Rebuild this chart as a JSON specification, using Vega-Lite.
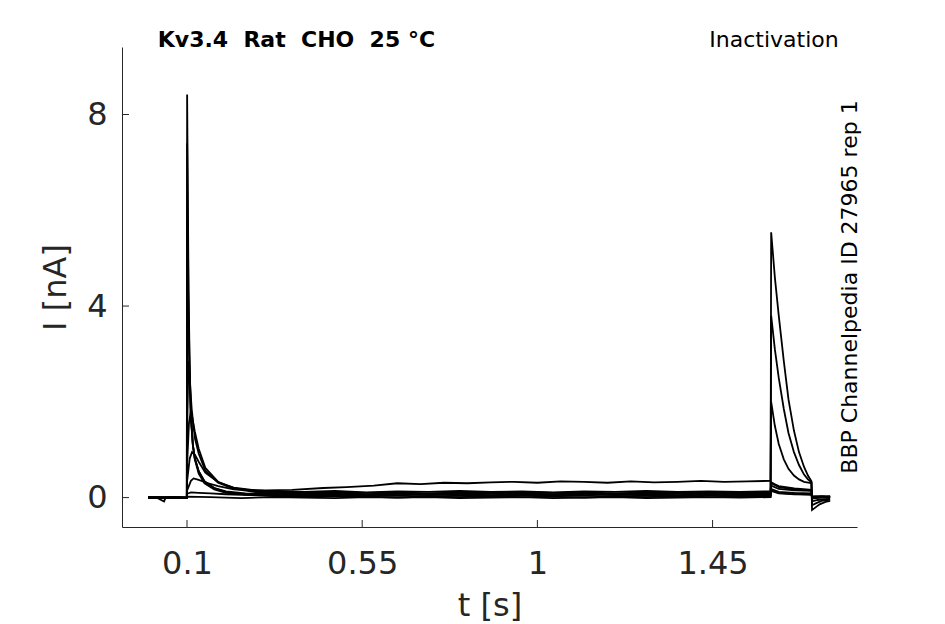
{
  "$schema": "https://vega.github.io/schema/vega-lite/v6.json",
  "width": 735,
  "height": 480,
  "autosize": {"type": "none"},
  "padding": {"left": 122, "top": 47, "right": 88, "bottom": 97},
  "background": "white",
  "config": {
    "view": {"stroke": null},
    "font": "DejaVu Sans",
    "axis": {
      "grid": false,
      "ticks": false,
      "domainColor": "#262626",
      "labelColor": "#262626",
      "titleColor": "#262626",
      "labelFont": "DejaVu Sans",
      "titleFont": "DejaVu Sans",
      "labelFontSize": 32,
      "titleFontSize": 32,
      "titleFontWeight": "normal",
      "domainWidth": 1
    }
  },
  "layer": [
    {
      "data": {
        "values": [
          {"k": "a", "t": 0, "i": 0.01}, {"k": "a", "t": 0.03, "i": -0.01}, {"k": "a", "t": 0.06, "i": 0.01}, {"k": "a", "t": 0.0995, "i": 0},
          {"k": "a", "t": 0.1003, "i": 8.42}, {"k": "a", "t": 0.102, "i": 6.4}, {"k": "a", "t": 0.104, "i": 4.3}, {"k": "a", "t": 0.107, "i": 2.7},
          {"k": "a", "t": 0.11, "i": 1.75}, {"k": "a", "t": 0.115, "i": 1.1}, {"k": "a", "t": 0.12, "i": 0.8}, {"k": "a", "t": 0.13, "i": 0.5},
          {"k": "a", "t": 0.145, "i": 0.3}, {"k": "a", "t": 0.17, "i": 0.17}, {"k": "a", "t": 0.2, "i": 0.1}, {"k": "a", "t": 0.25, "i": 0.07},
          {"k": "a", "t": 0.32, "i": 0.05}, {"k": "a", "t": 0.4, "i": 0.03}, {"k": "a", "t": 0.48, "i": 0.05}, {"k": "a", "t": 0.56, "i": 0.03},
          {"k": "a", "t": 0.64, "i": 0.04}, {"k": "a", "t": 0.72, "i": 0.02}, {"k": "a", "t": 0.8, "i": 0.04}, {"k": "a", "t": 0.88, "i": 0.03},
          {"k": "a", "t": 0.96, "i": 0.05}, {"k": "a", "t": 1.04, "i": 0.03}, {"k": "a", "t": 1.12, "i": 0.04}, {"k": "a", "t": 1.2, "i": 0.02},
          {"k": "a", "t": 1.28, "i": 0.04}, {"k": "a", "t": 1.36, "i": 0.03}, {"k": "a", "t": 1.44, "i": 0.05}, {"k": "a", "t": 1.52, "i": 0.03},
          {"k": "a", "t": 1.599, "i": 0.04}, {"k": "a", "t": 1.6005, "i": 0.14}, {"k": "a", "t": 1.62, "i": 0.09}, {"k": "a", "t": 1.66, "i": 0.07},
          {"k": "a", "t": 1.704, "i": 0.06}, {"k": "a", "t": 1.7055, "i": 0.01}, {"k": "a", "t": 1.73, "i": 0.02}, {"k": "a", "t": 1.752, "i": 0.01},

          {"k": "b", "t": 0, "i": 0}, {"k": "b", "t": 0.02, "i": 0.01}, {"k": "b", "t": 0.041, "i": -0.08}, {"k": "b", "t": 0.045, "i": 0},
          {"k": "b", "t": 0.07, "i": 0.01}, {"k": "b", "t": 0.0995, "i": -0.01},
          {"k": "b", "t": 0.1003, "i": 7.4}, {"k": "b", "t": 0.102, "i": 5.7}, {"k": "b", "t": 0.104, "i": 3.9}, {"k": "b", "t": 0.107, "i": 2.55},
          {"k": "b", "t": 0.11, "i": 1.7}, {"k": "b", "t": 0.115, "i": 1.1}, {"k": "b", "t": 0.12, "i": 0.82}, {"k": "b", "t": 0.13, "i": 0.55},
          {"k": "b", "t": 0.145, "i": 0.33}, {"k": "b", "t": 0.17, "i": 0.2}, {"k": "b", "t": 0.2, "i": 0.13}, {"k": "b", "t": 0.25, "i": 0.09},
          {"k": "b", "t": 0.32, "i": 0.07}, {"k": "b", "t": 0.4, "i": 0.06}, {"k": "b", "t": 0.48, "i": 0.08}, {"k": "b", "t": 0.56, "i": 0.05},
          {"k": "b", "t": 0.64, "i": 0.07}, {"k": "b", "t": 0.72, "i": 0.06}, {"k": "b", "t": 0.8, "i": 0.08}, {"k": "b", "t": 0.88, "i": 0.05},
          {"k": "b", "t": 0.96, "i": 0.07}, {"k": "b", "t": 1.04, "i": 0.06}, {"k": "b", "t": 1.12, "i": 0.08}, {"k": "b", "t": 1.2, "i": 0.06},
          {"k": "b", "t": 1.28, "i": 0.07}, {"k": "b", "t": 1.36, "i": 0.05}, {"k": "b", "t": 1.44, "i": 0.07}, {"k": "b", "t": 1.52, "i": 0.06},
          {"k": "b", "t": 1.599, "i": 0.06}, {"k": "b", "t": 1.6005, "i": 0.18}, {"k": "b", "t": 1.62, "i": 0.12}, {"k": "b", "t": 1.66, "i": 0.1},
          {"k": "b", "t": 1.704, "i": 0.09}, {"k": "b", "t": 1.7055, "i": 0.03}, {"k": "b", "t": 1.73, "i": 0.02}, {"k": "b", "t": 1.752, "i": 0.03},

          {"k": "c", "t": 0, "i": -0.01}, {"k": "c", "t": 0.03, "i": 0.01}, {"k": "c", "t": 0.06, "i": -0.01}, {"k": "c", "t": 0.0995, "i": 0},
          {"k": "c", "t": 0.1003, "i": 6.0}, {"k": "c", "t": 0.102, "i": 4.8}, {"k": "c", "t": 0.104, "i": 3.5}, {"k": "c", "t": 0.107, "i": 2.4},
          {"k": "c", "t": 0.11, "i": 1.65}, {"k": "c", "t": 0.115, "i": 1.1}, {"k": "c", "t": 0.12, "i": 0.82}, {"k": "c", "t": 0.13, "i": 0.55},
          {"k": "c", "t": 0.145, "i": 0.34}, {"k": "c", "t": 0.17, "i": 0.2}, {"k": "c", "t": 0.2, "i": 0.12}, {"k": "c", "t": 0.25, "i": 0.06},
          {"k": "c", "t": 0.32, "i": 0.03}, {"k": "c", "t": 0.4, "i": 0.01}, {"k": "c", "t": 0.48, "i": 0.03}, {"k": "c", "t": 0.56, "i": 0.02},
          {"k": "c", "t": 0.64, "i": 0.0}, {"k": "c", "t": 0.72, "i": 0.02}, {"k": "c", "t": 0.8, "i": 0.01}, {"k": "c", "t": 0.88, "i": 0.03},
          {"k": "c", "t": 0.96, "i": 0.01}, {"k": "c", "t": 1.04, "i": 0.02}, {"k": "c", "t": 1.12, "i": 0.0}, {"k": "c", "t": 1.2, "i": 0.02},
          {"k": "c", "t": 1.28, "i": 0.01}, {"k": "c", "t": 1.36, "i": 0.03}, {"k": "c", "t": 1.44, "i": 0.01}, {"k": "c", "t": 1.52, "i": 0.02},
          {"k": "c", "t": 1.599, "i": 0.02}, {"k": "c", "t": 1.6005, "i": 0.15}, {"k": "c", "t": 1.62, "i": 0.1}, {"k": "c", "t": 1.66, "i": 0.08},
          {"k": "c", "t": 1.704, "i": 0.06}, {"k": "c", "t": 1.7055, "i": 0.0}, {"k": "c", "t": 1.73, "i": 0.01}, {"k": "c", "t": 1.752, "i": 0.0},

          {"k": "d", "t": 0, "i": 0.01}, {"k": "d", "t": 0.03, "i": 0}, {"k": "d", "t": 0.06, "i": 0.01}, {"k": "d", "t": 0.0995, "i": 0},
          {"k": "d", "t": 0.1003, "i": 1.4}, {"k": "d", "t": 0.103, "i": 2.5}, {"k": "d", "t": 0.105, "i": 2.85}, {"k": "d", "t": 0.108, "i": 2.35},
          {"k": "d", "t": 0.112, "i": 1.85}, {"k": "d", "t": 0.12, "i": 1.25}, {"k": "d", "t": 0.13, "i": 0.92}, {"k": "d", "t": 0.147, "i": 0.56},
          {"k": "d", "t": 0.18, "i": 0.31}, {"k": "d", "t": 0.22, "i": 0.18}, {"k": "d", "t": 0.28, "i": 0.11}, {"k": "d", "t": 0.32, "i": 0.09},
          {"k": "d", "t": 0.4, "i": 0.08}, {"k": "d", "t": 0.48, "i": 0.1}, {"k": "d", "t": 0.56, "i": 0.07}, {"k": "d", "t": 0.64, "i": 0.09},
          {"k": "d", "t": 0.72, "i": 0.08}, {"k": "d", "t": 0.8, "i": 0.1}, {"k": "d", "t": 0.88, "i": 0.08}, {"k": "d", "t": 0.96, "i": 0.09},
          {"k": "d", "t": 1.04, "i": 0.07}, {"k": "d", "t": 1.12, "i": 0.09}, {"k": "d", "t": 1.2, "i": 0.08}, {"k": "d", "t": 1.28, "i": 0.1},
          {"k": "d", "t": 1.36, "i": 0.08}, {"k": "d", "t": 1.44, "i": 0.09}, {"k": "d", "t": 1.52, "i": 0.08}, {"k": "d", "t": 1.599, "i": 0.09},
          {"k": "d", "t": 1.6005, "i": 0.25}, {"k": "d", "t": 1.62, "i": 0.18}, {"k": "d", "t": 1.66, "i": 0.15}, {"k": "d", "t": 1.704, "i": 0.14},
          {"k": "d", "t": 1.7055, "i": 0.02}, {"k": "d", "t": 1.73, "i": 0.03}, {"k": "d", "t": 1.752, "i": 0.02},

          {"k": "e", "t": 0, "i": 0}, {"k": "e", "t": 0.03, "i": 0.01}, {"k": "e", "t": 0.06, "i": 0}, {"k": "e", "t": 0.0995, "i": 0.01},
          {"k": "e", "t": 0.1003, "i": 0.7}, {"k": "e", "t": 0.105, "i": 1.55}, {"k": "e", "t": 0.11, "i": 1.82}, {"k": "e", "t": 0.115, "i": 1.6},
          {"k": "e", "t": 0.12, "i": 1.38}, {"k": "e", "t": 0.13, "i": 1.02}, {"k": "e", "t": 0.147, "i": 0.62}, {"k": "e", "t": 0.18, "i": 0.33},
          {"k": "e", "t": 0.22, "i": 0.2}, {"k": "e", "t": 0.28, "i": 0.13}, {"k": "e", "t": 0.32, "i": 0.11}, {"k": "e", "t": 0.4, "i": 0.1},
          {"k": "e", "t": 0.48, "i": 0.12}, {"k": "e", "t": 0.56, "i": 0.1}, {"k": "e", "t": 0.64, "i": 0.11}, {"k": "e", "t": 0.72, "i": 0.09},
          {"k": "e", "t": 0.8, "i": 0.11}, {"k": "e", "t": 0.88, "i": 0.1}, {"k": "e", "t": 0.96, "i": 0.12}, {"k": "e", "t": 1.04, "i": 0.1},
          {"k": "e", "t": 1.12, "i": 0.11}, {"k": "e", "t": 1.2, "i": 0.09}, {"k": "e", "t": 1.28, "i": 0.11}, {"k": "e", "t": 1.36, "i": 0.1},
          {"k": "e", "t": 1.44, "i": 0.12}, {"k": "e", "t": 1.52, "i": 0.1}, {"k": "e", "t": 1.599, "i": 0.11},
          {"k": "e", "t": 1.6005, "i": 0.3}, {"k": "e", "t": 1.62, "i": 0.22}, {"k": "e", "t": 1.66, "i": 0.17}, {"k": "e", "t": 1.704, "i": 0.15},
          {"k": "e", "t": 1.7055, "i": 0.0}, {"k": "e", "t": 1.73, "i": 0.02}, {"k": "e", "t": 1.752, "i": 0.01},

          {"k": "f", "t": 0, "i": 0.01}, {"k": "f", "t": 0.03, "i": -0.01}, {"k": "f", "t": 0.06, "i": 0.01}, {"k": "f", "t": 0.0995, "i": 0},
          {"k": "f", "t": 0.1003, "i": 0.35}, {"k": "f", "t": 0.107, "i": 0.82}, {"k": "f", "t": 0.113, "i": 0.95}, {"k": "f", "t": 0.12, "i": 0.9},
          {"k": "f", "t": 0.13, "i": 0.75}, {"k": "f", "t": 0.147, "i": 0.52}, {"k": "f", "t": 0.18, "i": 0.32}, {"k": "f", "t": 0.22, "i": 0.21},
          {"k": "f", "t": 0.28, "i": 0.15}, {"k": "f", "t": 0.32, "i": 0.13}, {"k": "f", "t": 0.4, "i": 0.12}, {"k": "f", "t": 0.48, "i": 0.14},
          {"k": "f", "t": 0.56, "i": 0.11}, {"k": "f", "t": 0.64, "i": 0.13}, {"k": "f", "t": 0.72, "i": 0.12}, {"k": "f", "t": 0.8, "i": 0.14},
          {"k": "f", "t": 0.88, "i": 0.12}, {"k": "f", "t": 0.96, "i": 0.13}, {"k": "f", "t": 1.04, "i": 0.11}, {"k": "f", "t": 1.12, "i": 0.13},
          {"k": "f", "t": 1.2, "i": 0.12}, {"k": "f", "t": 1.28, "i": 0.14}, {"k": "f", "t": 1.36, "i": 0.12}, {"k": "f", "t": 1.44, "i": 0.13},
          {"k": "f", "t": 1.52, "i": 0.12}, {"k": "f", "t": 1.599, "i": 0.13},
          {"k": "f", "t": 1.6005, "i": 0.32}, {"k": "f", "t": 1.61, "i": 0.28}, {"k": "f", "t": 1.62, "i": 0.24}, {"k": "f", "t": 1.66, "i": 0.19},
          {"k": "f", "t": 1.704, "i": 0.16}, {"k": "f", "t": 1.7055, "i": -0.02}, {"k": "f", "t": 1.73, "i": 0.0}, {"k": "f", "t": 1.752, "i": 0.01},

          {"k": "g", "t": 0, "i": 0}, {"k": "g", "t": 0.03, "i": 0.01}, {"k": "g", "t": 0.06, "i": -0.01}, {"k": "g", "t": 0.0995, "i": 0},
          {"k": "g", "t": 0.1003, "i": 0.15}, {"k": "g", "t": 0.11, "i": 0.35}, {"k": "g", "t": 0.117, "i": 0.4}, {"k": "g", "t": 0.13, "i": 0.37},
          {"k": "g", "t": 0.15, "i": 0.31}, {"k": "g", "t": 0.18, "i": 0.24}, {"k": "g", "t": 0.22, "i": 0.17}, {"k": "g", "t": 0.3, "i": 0.15},
          {"k": "g", "t": 0.37, "i": 0.16}, {"k": "g", "t": 0.45, "i": 0.2}, {"k": "g", "t": 0.51, "i": 0.22}, {"k": "g", "t": 0.58, "i": 0.25},
          {"k": "g", "t": 0.64, "i": 0.3}, {"k": "g", "t": 0.7, "i": 0.28}, {"k": "g", "t": 0.76, "i": 0.31}, {"k": "g", "t": 0.82, "i": 0.3},
          {"k": "g", "t": 0.88, "i": 0.32}, {"k": "g", "t": 0.94, "i": 0.33}, {"k": "g", "t": 1.0, "i": 0.31}, {"k": "g", "t": 1.06, "i": 0.34},
          {"k": "g", "t": 1.12, "i": 0.33}, {"k": "g", "t": 1.18, "i": 0.31}, {"k": "g", "t": 1.24, "i": 0.34}, {"k": "g", "t": 1.3, "i": 0.32},
          {"k": "g", "t": 1.36, "i": 0.33}, {"k": "g", "t": 1.42, "i": 0.35}, {"k": "g", "t": 1.48, "i": 0.33}, {"k": "g", "t": 1.54, "i": 0.34},
          {"k": "g", "t": 1.599, "i": 0.35},
          {"k": "g", "t": 1.6005, "i": 2.0}, {"k": "g", "t": 1.61, "i": 1.5}, {"k": "g", "t": 1.62, "i": 1.12}, {"k": "g", "t": 1.633, "i": 0.8},
          {"k": "g", "t": 1.645, "i": 0.6}, {"k": "g", "t": 1.659, "i": 0.46}, {"k": "g", "t": 1.672, "i": 0.38}, {"k": "g", "t": 1.685, "i": 0.33},
          {"k": "g", "t": 1.704, "i": 0.3}, {"k": "g", "t": 1.7055, "i": -0.08}, {"k": "g", "t": 1.72, "i": -0.05}, {"k": "g", "t": 1.752, "i": -0.02},

          {"k": "h", "t": 0, "i": 0.01}, {"k": "h", "t": 0.03, "i": 0}, {"k": "h", "t": 0.06, "i": 0.01}, {"k": "h", "t": 0.0995, "i": 0},
          {"k": "h", "t": 0.1003, "i": 0.08}, {"k": "h", "t": 0.11, "i": 0.11}, {"k": "h", "t": 0.13, "i": 0.1}, {"k": "h", "t": 0.16, "i": 0.09},
          {"k": "h", "t": 0.2, "i": 0.07}, {"k": "h", "t": 0.26, "i": 0.05}, {"k": "h", "t": 0.32, "i": 0.06}, {"k": "h", "t": 0.4, "i": 0.04},
          {"k": "h", "t": 0.48, "i": 0.06}, {"k": "h", "t": 0.56, "i": 0.05}, {"k": "h", "t": 0.64, "i": 0.07}, {"k": "h", "t": 0.72, "i": 0.05},
          {"k": "h", "t": 0.8, "i": 0.06}, {"k": "h", "t": 0.88, "i": 0.04}, {"k": "h", "t": 0.96, "i": 0.06}, {"k": "h", "t": 1.04, "i": 0.05},
          {"k": "h", "t": 1.12, "i": 0.07}, {"k": "h", "t": 1.2, "i": 0.05}, {"k": "h", "t": 1.28, "i": 0.06}, {"k": "h", "t": 1.36, "i": 0.04},
          {"k": "h", "t": 1.44, "i": 0.06}, {"k": "h", "t": 1.52, "i": 0.05}, {"k": "h", "t": 1.599, "i": 0.06},
          {"k": "h", "t": 1.6005, "i": 3.8}, {"k": "h", "t": 1.61, "i": 3.1}, {"k": "h", "t": 1.62, "i": 2.5}, {"k": "h", "t": 1.633, "i": 1.85},
          {"k": "h", "t": 1.645, "i": 1.35}, {"k": "h", "t": 1.659, "i": 0.95}, {"k": "h", "t": 1.672, "i": 0.68}, {"k": "h", "t": 1.685, "i": 0.48},
          {"k": "h", "t": 1.695, "i": 0.38}, {"k": "h", "t": 1.704, "i": 0.32}, {"k": "h", "t": 1.7055, "i": -0.16}, {"k": "h", "t": 1.715, "i": -0.12},
          {"k": "h", "t": 1.73, "i": -0.07}, {"k": "h", "t": 1.752, "i": -0.04},

          {"k": "i", "t": 0, "i": 0}, {"k": "i", "t": 0.03, "i": -0.01}, {"k": "i", "t": 0.06, "i": 0.01}, {"k": "i", "t": 0.0995, "i": -0.01},
          {"k": "i", "t": 0.1003, "i": 0.02}, {"k": "i", "t": 0.16, "i": 0.01}, {"k": "i", "t": 0.24, "i": -0.01}, {"k": "i", "t": 0.32, "i": 0.01},
          {"k": "i", "t": 0.4, "i": 0}, {"k": "i", "t": 0.48, "i": -0.01}, {"k": "i", "t": 0.56, "i": 0.01}, {"k": "i", "t": 0.64, "i": 0},
          {"k": "i", "t": 0.72, "i": 0.01}, {"k": "i", "t": 0.8, "i": -0.01}, {"k": "i", "t": 0.88, "i": 0}, {"k": "i", "t": 0.96, "i": 0.01},
          {"k": "i", "t": 1.04, "i": -0.01}, {"k": "i", "t": 1.12, "i": 0}, {"k": "i", "t": 1.2, "i": 0.01}, {"k": "i", "t": 1.28, "i": -0.01},
          {"k": "i", "t": 1.36, "i": 0}, {"k": "i", "t": 1.44, "i": 0.01}, {"k": "i", "t": 1.52, "i": 0}, {"k": "i", "t": 1.599, "i": 0.01},
          {"k": "i", "t": 1.6005, "i": 5.54}, {"k": "i", "t": 1.61, "i": 4.6}, {"k": "i", "t": 1.62, "i": 3.8}, {"k": "i", "t": 1.633, "i": 2.85},
          {"k": "i", "t": 1.645, "i": 2.05}, {"k": "i", "t": 1.659, "i": 1.4}, {"k": "i", "t": 1.672, "i": 0.95}, {"k": "i", "t": 1.685, "i": 0.64},
          {"k": "i", "t": 1.695, "i": 0.46}, {"k": "i", "t": 1.704, "i": 0.34}, {"k": "i", "t": 1.7055, "i": -0.26}, {"k": "i", "t": 1.712, "i": -0.22},
          {"k": "i", "t": 1.725, "i": -0.14}, {"k": "i", "t": 1.74, "i": -0.09}, {"k": "i", "t": 1.752, "i": -0.07}
        ]
      },
      "mark": {"type": "line", "color": "black", "strokeWidth": 1.8},
      "encoding": {
        "x": {
          "field": "t",
          "type": "quantitative",
          "scale": {"domain": [-0.067, 1.821], "nice": false, "zero": false},
          "axis": {"values": [0.1, 0.55, 1, 1.45], "format": ".3~g", "title": "t [s]", "labelPadding": 21, "titlePadding": 11}
        },
        "y": {
          "field": "i",
          "type": "quantitative",
          "scale": {"domain": [-0.614, 9.41], "nice": false, "zero": false},
          "axis": {"values": [0, 4, 8], "format": ".3~g", "title": "I [nA]", "labelPadding": 15, "titlePadding": 14}
        },
        "detail": {"field": "k"}
      }
    },
    {
      "data": {"values": [{"p": 0.1}, {"p": 0.55}, {"p": 1}, {"p": 1.45}]},
      "mark": {"type": "rule", "color": "#262626", "strokeWidth": 1},
      "encoding": {"x": {"field": "p", "type": "quantitative"}, "y": {"datum": -0.614}, "y2": {"datum": -0.468}}
    },
    {
      "data": {"values": [{"p": 0}, {"p": 4}, {"p": 8}]},
      "mark": {"type": "rule", "color": "#262626", "strokeWidth": 1},
      "encoding": {"y": {"field": "p", "type": "quantitative"}, "x": {"datum": -0.067}, "x2": {"datum": -0.049}}
    },
    {
      "data": {"values": [{}]},
      "mark": {"type": "text", "text": "Kv3.4\u00a0\u00a0Rat\u00a0\u00a0CHO\u00a0\u00a025\u00a0°C", "align": "left", "baseline": "alphabetic", "fontSize": 22, "fontWeight": "bold", "font": "DejaVu Sans", "color": "black"},
      "encoding": {"x": {"datum": 0.0248}, "y": {"datum": 9.41}}
    },
    {
      "data": {"values": [{}]},
      "mark": {"type": "text", "text": "Inactivation", "align": "right", "baseline": "alphabetic", "fontSize": 22, "font": "DejaVu Sans", "color": "black"},
      "encoding": {"x": {"datum": 1.774}, "y": {"datum": 9.41}}
    },
    {
      "data": {"values": [{}]},
      "mark": {"type": "text", "text": "BBP Channelpedia ID 27965 rep 1", "align": "center", "baseline": "alphabetic", "angle": 270, "fontSize": 22, "font": "DejaVu Sans", "color": "black"},
      "encoding": {"x": {"datum": 1.821}, "y": {"datum": 4.398}}
    }
  ]
}
